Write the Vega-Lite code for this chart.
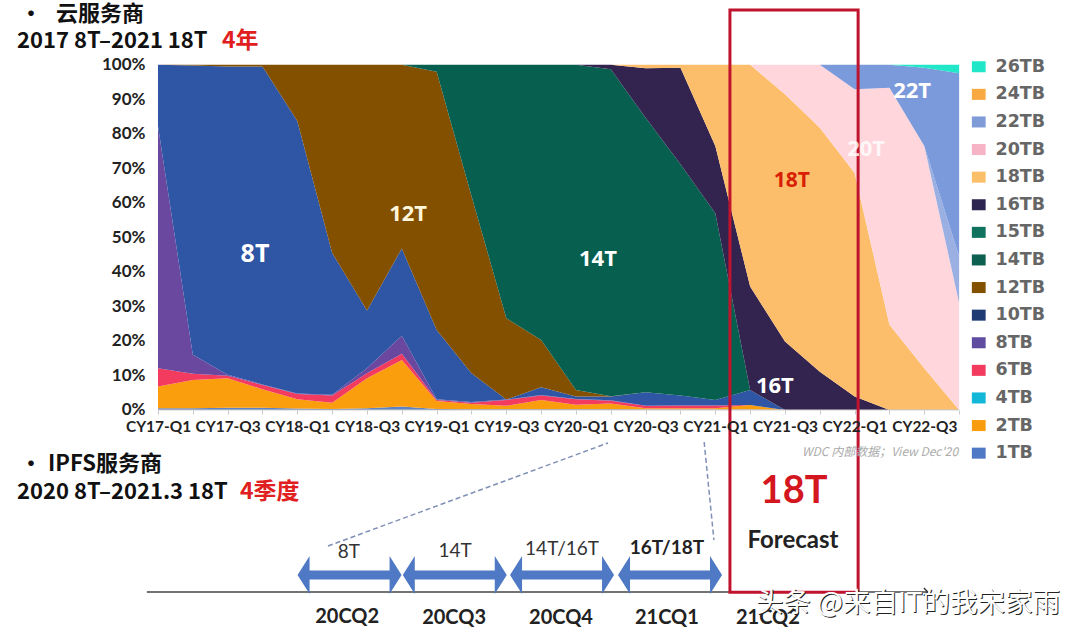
{
  "$schema": "https://vega.github.io/schema/vega-lite/v6.json",
  "width": 1080,
  "height": 637,
  "padding": 0,
  "autosize": {"type": "none"},
  "background": "white",
  "config": {
    "view": {"stroke": null},
    "text": {"font": "Open Sans"}
  },
  "encoding": {
    "x": {
      "field": "q",
      "type": "quantitative",
      "title": null,
      "scale": {"domain": [-4.536, 26.47], "nice": false, "zero": false},
      "axis": {
        "orient": "bottom",
        "offset": -227,
        "domain": false,
        "grid": false,
        "values": [0,1,2,3,4,5,6,7,8,9,10,11,12,13,14,15,16,17,18,19,20,21,22,23],
        "labelExpr": "datum.value % 2 == 0 ? 'CY' + (17 + floor(datum.value / 4)) + '-Q' + (datum.value % 4 + 1) : ''",
        "labelFont": "Lato",
        "labelFontWeight": "bold",
        "labelFontSize": 15.4,
        "labelColor": "#222222",
        "labelOverlap": false,
        "labelPadding": 5,
        "tickColor": "#c8c8c8",
        "tickSize": 4,
        "zindex": 1
      }
    },
    "y": {
      "field": "v",
      "type": "quantitative",
      "title": null,
      "scale": {"domain": [-65.8, 118.8], "nice": false, "zero": false},
      "axis": {
        "orient": "left",
        "offset": -158,
        "domain": false,
        "grid": false,
        "ticks": false,
        "values": [0,10,20,30,40,50,60,70,80,90,100],
        "labelExpr": "datum.value + '%'",
        "labelFont": "Lato",
        "labelFontWeight": "bold",
        "labelFontSize": 17,
        "labelColor": "#222222",
        "labelPadding": 13,
        "zindex": 1
      }
    }
  },
  "layer": [
    {
      "data": {"values": [
        {"q":0,"s":"1TB","k":1,"v":0.5},{"q":1,"s":"1TB","k":1,"v":0.5},{"q":2,"s":"1TB","k":1,"v":0.6},{"q":3,"s":"1TB","k":1,"v":0.6},{"q":4,"s":"1TB","k":1,"v":0.4},{"q":5,"s":"1TB","k":1,"v":0.3},{"q":6,"s":"1TB","k":1,"v":0.5},{"q":7,"s":"1TB","k":1,"v":1},{"q":8,"s":"1TB","k":1,"v":0.3},{"q":9,"s":"1TB","k":1,"v":0.2},{"q":10,"s":"1TB","k":1,"v":0.2},{"q":11,"s":"1TB","k":1,"v":0.2},{"q":12,"s":"1TB","k":1,"v":0.2},{"q":13,"s":"1TB","k":1,"v":0.2},{"q":14,"s":"1TB","k":1,"v":0.1},{"q":15,"s":"1TB","k":1,"v":0.1},{"q":16,"s":"1TB","k":1,"v":0.1},{"q":17,"s":"1TB","k":1,"v":0.1},
        {"q":0,"s":"2TB","k":2,"v":6.3},{"q":1,"s":"2TB","k":2,"v":8.2},{"q":2,"s":"2TB","k":2,"v":8.6},{"q":3,"s":"2TB","k":2,"v":5.4},{"q":4,"s":"2TB","k":2,"v":2.7},{"q":5,"s":"2TB","k":2,"v":1.8},{"q":6,"s":"2TB","k":2,"v":8.7},{"q":7,"s":"2TB","k":2,"v":13.5},{"q":8,"s":"2TB","k":2,"v":2.3},{"q":9,"s":"2TB","k":2,"v":1.5},{"q":10,"s":"2TB","k":2,"v":1},{"q":11,"s":"2TB","k":2,"v":2.7},{"q":12,"s":"2TB","k":2,"v":1.3},{"q":13,"s":"2TB","k":2,"v":1.7},{"q":14,"s":"2TB","k":2,"v":0.4},{"q":15,"s":"2TB","k":2,"v":0.4},{"q":16,"s":"2TB","k":2,"v":0.4},{"q":17,"s":"2TB","k":2,"v":1.3},
        {"q":0,"s":"6TB","k":3,"v":5.3},{"q":1,"s":"6TB","k":3,"v":1.8},{"q":2,"s":"6TB","k":3,"v":0.7},{"q":3,"s":"6TB","k":3,"v":1.2},{"q":4,"s":"6TB","k":3,"v":1.5},{"q":5,"s":"6TB","k":3,"v":2.1},{"q":6,"s":"6TB","k":3,"v":1.4},{"q":7,"s":"6TB","k":3,"v":1.8},{"q":8,"s":"6TB","k":3,"v":0.3},{"q":9,"s":"6TB","k":3,"v":0.4},{"q":10,"s":"6TB","k":3,"v":1.7},{"q":11,"s":"6TB","k":3,"v":1.3},{"q":12,"s":"6TB","k":3,"v":1.6},{"q":13,"s":"6TB","k":3,"v":0.8},{"q":14,"s":"6TB","k":3,"v":0.7},{"q":15,"s":"6TB","k":3,"v":0.8},{"q":16,"s":"6TB","k":3,"v":0.8},
        {"q":0,"s":"8TB","k":4,"v":70.2},{"q":1,"s":"8TB","k":4,"v":5.5},{"q":2,"s":"8TB","k":4,"v":0.3},{"q":3,"s":"8TB","k":4,"v":0.2},{"q":4,"s":"8TB","k":4,"v":0.2},{"q":5,"s":"8TB","k":4,"v":0.2},{"q":6,"s":"8TB","k":4,"v":1.5},{"q":7,"s":"8TB","k":4,"v":5.2},{"q":8,"s":"8TB","k":4,"v":0.2},{"q":9,"s":"8TB","k":4,"v":0.2},{"q":10,"s":"8TB","k":4,"v":0.1},{"q":11,"s":"8TB","k":4,"v":0.1},{"q":12,"s":"8TB","k":4,"v":0.1},{"q":13,"s":"8TB","k":4,"v":0.1},
        {"q":0,"s":"10TB","k":5,"v":17.7},{"q":1,"s":"10TB","k":5,"v":83.8},{"q":2,"s":"10TB","k":5,"v":89.3},{"q":3,"s":"10TB","k":5,"v":92.1},{"q":4,"s":"10TB","k":5,"v":78.9},{"q":5,"s":"10TB","k":5,"v":41.1},{"q":6,"s":"10TB","k":5,"v":16.7},{"q":7,"s":"10TB","k":5,"v":25.3},{"q":8,"s":"10TB","k":5,"v":20.1},{"q":9,"s":"10TB","k":5,"v":8.3},{"q":11,"s":"10TB","k":5,"v":2.3},{"q":12,"s":"10TB","k":5,"v":0.7},{"q":13,"s":"10TB","k":5,"v":1.1},{"q":14,"s":"10TB","k":5,"v":3.9},{"q":15,"s":"10TB","k":5,"v":2.9},{"q":16,"s":"10TB","k":5,"v":1.6},{"q":17,"s":"10TB","k":5,"v":4.4},
        {"q":1,"s":"12TB","k":6,"v":0.2},{"q":2,"s":"12TB","k":6,"v":0.5},{"q":3,"s":"12TB","k":6,"v":0.5},{"q":4,"s":"12TB","k":6,"v":16.3},{"q":5,"s":"12TB","k":6,"v":54.5},{"q":6,"s":"12TB","k":6,"v":71.2},{"q":7,"s":"12TB","k":6,"v":53.2},{"q":8,"s":"12TB","k":6,"v":74.8},{"q":9,"s":"12TB","k":6,"v":51.4},{"q":10,"s":"12TB","k":6,"v":23.6},{"q":11,"s":"12TB","k":6,"v":13.7},{"q":12,"s":"12TB","k":6,"v":1.9},{"q":13,"s":"12TB","k":6,"v":0.1},
        {"q":8,"s":"14TB","k":7,"v":2},{"q":9,"s":"14TB","k":7,"v":38},{"q":10,"s":"14TB","k":7,"v":73.4},{"q":11,"s":"14TB","k":7,"v":79.7},{"q":12,"s":"14TB","k":7,"v":94.2},{"q":13,"s":"14TB","k":7,"v":94.7},{"q":14,"s":"14TB","k":7,"v":79.6},{"q":15,"s":"14TB","k":7,"v":67},{"q":16,"s":"14TB","k":7,"v":54.1},
        {"q":13,"s":"16TB","k":8,"v":1.3},{"q":14,"s":"16TB","k":8,"v":14.3},{"q":15,"s":"16TB","k":8,"v":28},{"q":16,"s":"16TB","k":8,"v":19.5},{"q":17,"s":"16TB","k":8,"v":30},{"q":18,"s":"16TB","k":8,"v":19.8},{"q":19,"s":"16TB","k":8,"v":11.1},{"q":20,"s":"16TB","k":8,"v":3.9},
        {"q":14,"s":"18TB","k":9,"v":1},{"q":15,"s":"18TB","k":9,"v":0.8},{"q":16,"s":"18TB","k":9,"v":23.5},{"q":17,"s":"18TB","k":9,"v":64.2},{"q":18,"s":"18TB","k":9,"v":71.7},{"q":19,"s":"18TB","k":9,"v":70.7},{"q":20,"s":"18TB","k":9,"v":64.8},{"q":21,"s":"18TB","k":9,"v":24.7},{"q":22,"s":"18TB","k":9,"v":12.1},
        {"q":18,"s":"20TB","k":10,"v":8.5},{"q":19,"s":"20TB","k":10,"v":18.2},{"q":20,"s":"20TB","k":10,"v":24.2},{"q":21,"s":"20TB","k":10,"v":68.7},{"q":22,"s":"20TB","k":10,"v":64.4},{"q":23,"s":"20TB","k":10,"v":31},
        {"q":23,"s":"22TB+","k":11,"v":13.5},
        {"q":20,"s":"22TB","k":12,"v":7.1},{"q":21,"s":"22TB","k":12,"v":6.6},{"q":22,"s":"22TB","k":12,"v":22.7},{"q":23,"s":"22TB","k":12,"v":53.1},
        {"q":22,"s":"26TB","k":13,"v":0.8},{"q":23,"s":"26TB","k":13,"v":2.4}
      ]},
      "mark": {"type": "area", "interpolate": "linear"},
      "encoding": {
        "fill": {
          "field": "s",
          "type": "nominal",
          "scale": {
            "domain": ["26TB","22TB","22TB+","20TB","18TB","16TB","14TB","12TB","10TB","8TB","6TB","2TB","1TB"],
            "range": ["#22E6C8","#7B9ADB","#9BB0E2","#FFD6DC","#FDBE6B","#33244F","#075F50","#835000","#2F55A5","#6A48A0","#F23B5F","#FB9E0E","#5E83C4"]
          },
          "legend": null
        },
        "detail": {"field": "k"},
        "order": {"field": "k", "type": "quantitative"}
      }
    },
    {
      "data": {"values": [
        {"s":"26TB","q":0,"v":0},{"s":"24TB","q":0,"v":0},{"s":"22TB","q":0,"v":0},{"s":"20TB","q":0,"v":0},{"s":"18TB","q":0,"v":0},
        {"s":"16TB","q":0,"v":0},{"s":"15TB","q":0,"v":0},{"s":"14TB","q":0,"v":0},{"s":"12TB","q":0,"v":0},{"s":"10TB","q":0,"v":0},
        {"s":"8TB","q":0,"v":0},{"s":"6TB","q":0,"v":0},{"s":"4TB","q":0,"v":0},{"s":"2TB","q":0,"v":0},{"s":"1TB","q":0,"v":0}
      ]},
      "mark": {"type": "point", "filled": true, "size": 0},
      "encoding": {
        "color": {
          "field": "s",
          "type": "nominal",
          "scale": {
            "domain": ["26TB","24TB","22TB","20TB","18TB","16TB","15TB","14TB","12TB","10TB","8TB","6TB","4TB","2TB","1TB"],
            "range": ["#22E6C8","#F9A942","#7F9BD8","#F7B3C6","#FBBF6A","#2F2552","#0F7360","#0B6050","#835000","#1F3B73","#5F4BA0","#F23B5F","#12B7D8","#F99D0E","#4F79C4"]
          },
          "legend": {
            "title": null,
            "orient": "none",
            "legendX": 970,
            "legendY": 58,
            "symbolType": "M-1,-0.8H1V0.8H-1Z",
            "symbolSize": 190,
            "symbolStrokeWidth": 0,
            "symbolOpacity": 1,
            "labelFont": "DejaVu Sans",
            "labelFontWeight": "bold",
            "labelFontSize": 17.5,
            "labelColor": "#666666",
            "labelOffset": 8,
            "rowPadding": 8.6
          }
        }
      }
    },
    {
      "data": {"values": [{"q":0,"q2":23,"v":0}]},
      "mark": {"type": "rule", "color": "#c8c8c8", "strokeWidth": 1},
      "encoding": {"x2": {"field": "q2"}}
    },
    {
      "data": {"values": [{"q":-0.32,"q2":22.1,"v":-52.75}]},
      "mark": {"type": "rule", "color": "#444444", "strokeWidth": 1.6},
      "encoding": {"x2": {"field": "q2"}}
    },
    {
      "data": {"values": [{"q":22.1,"v":-52.75}]},
      "mark": {"type": "point", "shape": "M-1,-1L0,0L-1,1", "size": 60, "stroke": "#333333", "strokeWidth": 1.4, "fill": null, "opacity": 1}
    },
    {
      "data": {"values": [
        {"l":"a","q":4.88,"v":-39.42},{"l":"a","q":12.92,"v":-9.57},
        {"l":"b","q":15.68,"v":-9.28},{"l":"b","q":15.96,"v":-37.68}
      ]},
      "mark": {"type": "line", "color": "#7F8FB5", "strokeWidth": 1.5, "strokeDash": [5, 3]},
      "encoding": {"detail": {"field": "l"}}
    },
    {
      "data": {"values": [{"q":5.5,"v":-47.83},{"q":8.52,"v":-47.83},{"q":11.6,"v":-47.83},{"q":14.7,"v":-47.83}]},
      "mark": {
        "type": "point",
        "shape": "M-2.737,0L-2.105,-1L-2.105,-0.237L2.105,-0.237L2.105,-1L2.737,0L2.105,1L2.105,0.237L-2.105,0.237L-2.105,1Z",
        "size": 1444,
        "filled": true,
        "color": "#4F79C4",
        "opacity": 1
      }
    },
    {
      "data": {"values": [{"q":16.42,"q2":20.1,"v":115.9,"v2":-52.8}]},
      "mark": {"type": "rect", "fill": null, "stroke": "#C0142E", "strokeWidth": 3},
      "encoding": {"x2": {"field": "q2"}, "y2": {"field": "v2"}}
    },
    {
      "data": {"values": [
        {"t":"•","q":-3.96,"v":114.8},
        {"t":"云服务商","q":-2.93,"v":114.8},
        {"t":"2017 8T–2021 18T","q":-4.048,"v":106.96},
        {"t":"•","q":-3.96,"v":-15.65},
        {"t":"IPFS服务商","q":-3.158,"v":-15.65},
        {"t":"2020 8T–2021.3 18T","q":-4.048,"v":-23.77}
      ]},
      "mark": {"type": "text", "align": "left", "baseline": "middle", "font": "Noto Sans CJK SC", "fontWeight": "bold", "fontSize": 22, "color": "#111111"},
      "encoding": {"text": {"field": "t"}}
    },
    {
      "data": {"values": [
        {"t":"4年","q":1.838,"v":106.96},
        {"t":"4季度","q":2.354,"v":-23.77}
      ]},
      "mark": {"type": "text", "align": "left", "baseline": "middle", "font": "Noto Sans CJK SC", "fontWeight": "bold", "fontSize": 23, "color": "#E02020"},
      "encoding": {"text": {"field": "t"}}
    },
    {
      "data": {"values": [{"t":"8T","q":2.785,"v":45.2}]},
      "mark": {"type": "text", "fontWeight": "bold", "fontSize": 25, "color": "#FFFFFF"},
      "encoding": {"text": {"field": "t"}}
    },
    {
      "data": {"values": [
        {"t":"14T","q":12.63,"v":43.8},
        {"t":"16T","q":17.71,"v":7},
        {"t":"22T","q":21.65,"v":92.5}
      ]},
      "mark": {"type": "text", "fontWeight": "bold", "fontSize": 22, "color": "#FFFFFF"},
      "encoding": {"text": {"field": "t"}}
    },
    {
      "data": {"values": [{"t":"12T","q":7.18,"v":56.8}]},
      "mark": {"type": "text", "fontWeight": "bold", "fontSize": 22, "color": "#FFF6DC"},
      "encoding": {"text": {"field": "t"}}
    },
    {
      "data": {"values": [{"t":"20T","q":20.33,"v":75.65}]},
      "mark": {"type": "text", "fontWeight": "bold", "fontSize": 22, "color": "#FFFFFF", "opacity": 0.8},
      "encoding": {"text": {"field": "t"}}
    },
    {
      "data": {"values": [{"t":"18T","q":18.2,"v":66.4}]},
      "mark": {"type": "text", "fontWeight": "bold", "fontSize": 21, "color": "#D81E05"},
      "encoding": {"text": {"field": "t"}}
    },
    {
      "data": {"values": [{"t":"18T","q":18.26,"v":-23.77}]},
      "mark": {"type": "text", "font": "Lato", "fontWeight": "bold", "fontSize": 38, "color": "#D4161F"},
      "encoding": {"text": {"field": "t"}}
    },
    {
      "data": {"values": [{"t":"Forecast","q":18.23,"v":-37.97}]},
      "mark": {"type": "text", "font": "Lato", "fontWeight": "bold", "fontSize": 24, "color": "#222222"},
      "encoding": {"text": {"field": "t"}}
    },
    {
      "data": {"values": [
        {"t":"8T","q":5.48,"v":-41.16},
        {"t":"14T","q":8.53,"v":-40.87},
        {"t":"14T/16T","q":11.6,"v":-40.29}
      ]},
      "mark": {"type": "text", "font": "Lato", "fontSize": 19, "color": "#333333"},
      "encoding": {"text": {"field": "t"}}
    },
    {
      "data": {"values": [{"t":"16T/18T","q":14.61,"v":-40}]},
      "mark": {"type": "text", "font": "Lato", "fontWeight": "bold", "fontSize": 19, "color": "#222222"},
      "encoding": {"text": {"field": "t"}}
    },
    {
      "data": {"values": [
        {"t":"20CQ2","q":5.43,"v":-60},
        {"t":"20CQ3","q":8.5,"v":-60.3},
        {"t":"20CQ4","q":11.57,"v":-60.3},
        {"t":"21CQ1","q":14.61,"v":-60.3},
        {"t":"21CQ2","q":17.51,"v":-60.3}
      ]},
      "mark": {"type": "text", "font": "Lato", "fontWeight": "bold", "fontSize": 20, "color": "#222222"},
      "encoding": {"text": {"field": "t"}}
    },
    {
      "data": {"values": [{"t":"WDC 内部数据；View Dec'20","q":20.73,"v":-12.17}]},
      "mark": {"type": "text", "font": "Noto Sans CJK SC", "fontStyle": "italic", "fontSize": 12, "color": "#ABABAB"},
      "encoding": {"text": {"field": "t"}}
    },
    {
      "data": {"values": [{"t":"头条 @来自IT的我宋家雨","q":21.53,"v":-56.2}]},
      "mark": {"type": "text", "font": "Noto Sans CJK SC", "fontSize": 27.5, "color": "#222222", "dx": 1, "dy": 1},
      "encoding": {"text": {"field": "t"}}
    },
    {
      "data": {"values": [{"t":"头条 @来自IT的我宋家雨","q":21.53,"v":-56.2}]},
      "mark": {"type": "text", "font": "Noto Sans CJK SC", "fontSize": 27.5, "color": "#FFFFFF"},
      "encoding": {"text": {"field": "t"}}
    }
  ]
}
